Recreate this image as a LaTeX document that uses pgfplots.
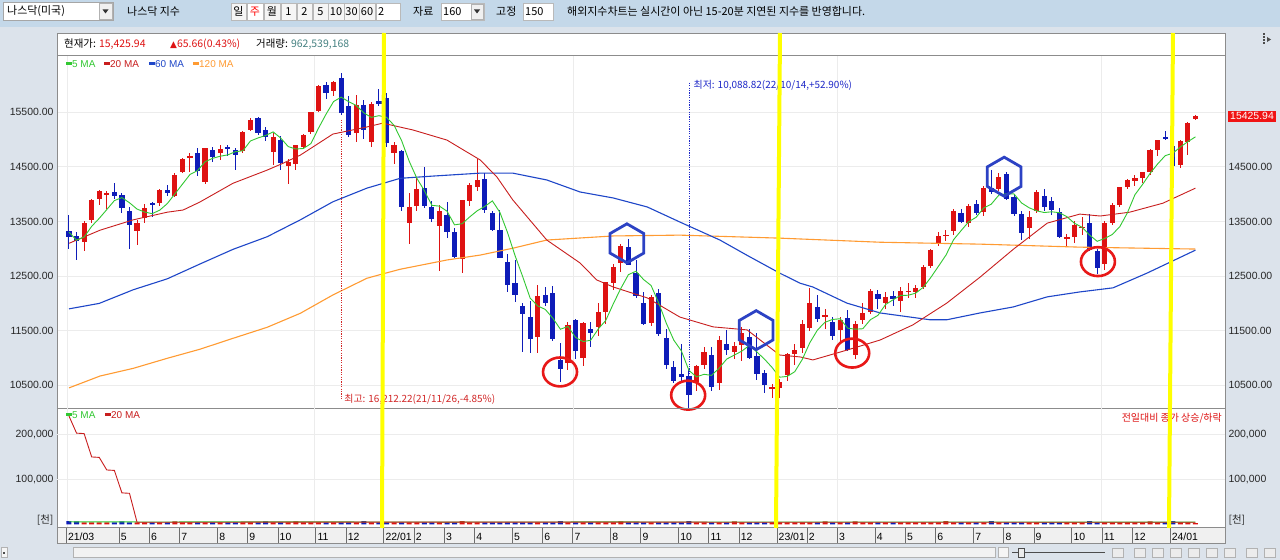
\documentclass[border=0pt]{standalone}
\usepackage{fontspec}
\usepackage{pgfplots}
\usepackage{pgfplotstable}
\pgfplotsset{compat=1.18}
\setmainfont{Liberation Sans}
\newfontfamily\kr{Noto Sans CJK KR}
\newfontfamily\djv{DejaVu Sans}
\newcommand\tkf{\fontsize{10.5}{12}\selectfont}
\newcommand\lgf{\fontsize{10}{12}\selectfont}
\newcommand\kt{\kr\fontsize{11}{13}\selectfont}
\newcommand\ks{\kr\fontsize{10.5}{12}\selectfont}
\newcommand\ka{\kr\fontsize{10}{12}\selectfont}

\definecolor{bgside}{RGB}{220,227,235}
\definecolor{bgtool}{RGB}{196,216,233}
\definecolor{upc}{RGB}{222,18,18}
\definecolor{dnc}{RGB}{14,28,184}
\definecolor{maA}{RGB}{50,200,50}
\definecolor{maB}{RGB}{200,30,30}
\definecolor{maC}{RGB}{30,70,200}
\definecolor{maD}{RGB}{255,155,50}
\definecolor{gridc}{RGB}{236,236,236}
\definecolor{framec}{RGB}{140,140,140}
\definecolor{sepc}{RGB}{110,110,110}
\definecolor{stripc}{RGB}{240,240,240}
\definecolor{annred}{RGB}{232,24,24}
\definecolor{annblue}{RGB}{44,66,196}
\definecolor{hiRed}{RGB}{210,40,40}
\definecolor{loBlue}{RGB}{30,40,200}
\definecolor{tagred}{RGB}{240,20,20}
\definecolor{tealc}{RGB}{70,130,130}
\definecolor{yel}{RGB}{255,255,0}

\pgfdeclareplotmark{hexagon}{%
  \pgfpathmoveto{\pgfpointpolar{90}{\pgfplotmarksize}}%
  \pgfpathlineto{\pgfpointpolar{150}{\pgfplotmarksize}}%
  \pgfpathlineto{\pgfpointpolar{210}{\pgfplotmarksize}}%
  \pgfpathlineto{\pgfpointpolar{270}{\pgfplotmarksize}}%
  \pgfpathlineto{\pgfpointpolar{330}{\pgfplotmarksize}}%
  \pgfpathlineto{\pgfpointpolar{30}{\pgfplotmarksize}}%
  \pgfpathclose
  \pgfusepathqstroke
}

\pgfplotsset{
  every axis/.append style={scaled ticks=false},
  pricegeom/.style={at={(57bp,152bp)}, anchor=south west, scale only axis,
    width=1168bp, height=353bp, xmin=-1.587, xmax=152.91, ymin=10085, ymax=16548},
  volgeom/.style={at={(57bp,33bp)}, anchor=south west, scale only axis,
    width=1168bp, height=119bp, xmin=-1.587, xmax=152.91, ymin=-6000, ymax=259000},
}

% weekly candles, close above open
\pgfplotstableread{
i o h l c v
2 13120 13510 12960 13480 4500
3 13530 13920 13480 13900 4500
4 13920 14070 13800 14052 4500
5 13990 14050 13730 14017 4500
9 13330 13530 13070 13471 4500
10 13557 13820 13480 13749 4500
12 13830 14100 13780 14069 4500
14 13960 14390 13940 14360 6500
15 14400 14660 14380 14639 4500
16 14660 14750 14410 14702 4500
18 14220 14850 14180 14837 4500
20 14760 14900 14620 14836 4500
23 14790 15150 14750 15130 4500
24 15180 15403 15150 15364 4500
27 14780 15120 14530 15048 4500
29 14520 14640 14181 14580 4500
30 14560 14900 14450 14897 6500
31 14870 15100 14850 15090 4500
32 15130 15510 15100 15498 4500
33 15530 15990 15510 15972 4500
35 15880 16080 15800 16057 4500
38 15115 15817 14962 15631 4500
40 14962 15690 14860 15653 4500
43 14750 14960 14560 14894 4500
45 13470 14015 13094 13771 4500
46 13780 14290 13700 14098 4500
49 13420 13800 12587 13695 4500
52 12820 13900 12555 13894 7000
53 13880 14200 13790 14169 4500
54 14140 14646 14050 14262 4500
62 11380 12330 11100 12131 4500
66 10900 11660 10780 11608 4500
68 11000 11660 10860 11635 4500
70 11560 12000 11400 11834 4500
71 11850 12400 11620 12391 4500
72 12370 12730 12240 12658 4500
73 12740 13080 12580 13047 6500
77 11640 12150 11580 12112 4500
83 10565 10880 10400 10860 4500
84 10870 11210 10800 11102 4500
86 10540 11400 10410 11323 4500
88 11110 11290 10980 11226 6500
89 11240 11570 10950 11462 4500
93 10440 10530 10262 10466 4500
94 10450 10620 10265 10569 4500
95 10690 11100 10580 11079 4500
96 11070 11250 10870 11140 4500
97 11180 11700 11100 11622 4500
98 11550 12277 11500 12007 4500
100 11750 11900 11540 11787 6500
102 11510 11760 11300 11689 4500
104 11060 11680 10980 11631 6500
105 11700 12000 11620 11824 4500
106 11840 12270 11800 12222 4500
108 12000 12200 11900 12123 4500
110 12050 12300 11850 12227 4500
111 12210 12380 12100 12235 4500
112 12200 12340 12100 12285 4500
113 12300 12700 12270 12658 4500
114 12690 13000 12650 12976 4500
115 13100 13300 13050 13241 4500
116 13230 13340 13150 13259 7000
117 13330 13720 13250 13690 4500
119 13480 13820 13400 13788 4500
121 13680 14150 13600 14114 4500
123 14090 14380 14050 14317 4500
127 13380 13700 13180 13591 4500
128 13700 14070 13650 14032 4500
132 13180 13270 13060 13219 4500
133 13220 13500 13100 13431 4500
134 13380 13580 13250 13407 4500
137 12720 13500 12620 13478 4500
138 13480 13830 13440 13798 4500
139 13800 14140 13770 14125 4500
140 14130 14280 14100 14251 4500
141 14250 14360 14150 14305 4500
142 14300 14410 14200 14404 4500
143 14400 14830 14350 14814 6500
144 14800 15000 14700 14993 4500
147 14530 15000 14480 14973 4500
148 14950 15320 14720 15311 4500
149 15380 15450 15350 15426 2500
}\upT

% weekly candles, close below open
\pgfplotstableread{
i o h l c v
0 13320 13620 13000 13215 7000
1 13240 13300 12787 13139 6500
6 14040 14211 13920 13963 4500
7 13990 14020 13650 13752 6500
8 13700 13760 13002 13430 4500
11 13830 13850 13580 13814 4500
13 14080 14174 13970 14030 4500
17 14760 14845 14340 14427 4500
19 14800 14864 14580 14673 4500
21 14860 14900 14700 14823 4500
22 14800 14850 14440 14715 4500
25 15400 15420 15090 15115 4500
26 15180 15230 14980 15044 6500
28 15000 15060 14440 14567 4500
34 16000 16060 15740 15861 4500
36 16123 16212 15450 15492 4500
37 15620 15800 15050 15085 4500
39 15634 15720 15006 15170 7000
41 15713 15920 15620 15645 4500
42 15756 15860 14860 14936 4500
44 14790 14810 13690 13769 4500
47 14110 14490 13750 13791 4500
48 13760 13870 13490 13548 4500
50 13620 13860 13190 13313 4500
51 13300 13380 12830 12844 4500
55 14270 14380 13650 13711 4500
56 13660 13700 13330 13351 4500
57 13350 13710 12830 12839 4500
58 12760 12900 12200 12335 4500
59 12370 12800 12030 12145 4500
60 11950 12000 11110 11805 4500
61 11750 12050 11090 11355 4500
63 12150 12300 11960 12013 4500
64 12190 12320 11320 11340 4500
65 10960 11280 10565 10798 7000
67 11690 11720 10980 11128 4500
69 11540 11660 11200 11452 4500
74 13030 13181 12700 12705 4500
75 12550 12800 12106 12142 4500
76 12000 12200 11604 11631 4500
78 12185 12270 11410 11448 4500
79 11370 11530 10800 10868 4500
80 10840 10950 10540 10576 4500
81 10700 11250 10570 10652 4500
82 10670 10800 10089 10321 7000
85 11050 11200 10390 10475 4500
87 11250 11510 11050 11146 4500
90 11390 11540 10980 11005 4500
91 11030 11450 10600 10705 4500
92 10730 10780 10360 10498 4500
99 11940 12150 11665 11718 4500
101 11660 11750 11330 11395 4500
103 11740 11880 11120 11139 4500
107 12170 12250 11900 12088 4500
109 12140 12230 11960 12072 4500
118 13650 13720 13470 13493 4500
120 13820 13900 13620 13661 4500
122 14110 14446 14000 14033 7000
124 14370 14400 13900 13909 4500
125 13955 14000 13600 13645 4500
126 13640 13700 13160 13291 4500
129 13970 14100 13690 13762 4500
130 13880 13950 13620 13708 4500
131 13680 13740 13200 13212 4500
135 13470 13640 12960 12984 7000
136 12960 13000 12544 12643 4500
145 15050 15160 14990 15011 4500
146 14880 14900 14500 14524 7000
}\dnT

\begin{document}
\begin{tikzpicture}
\useasboundingbox (0,0) rectangle (1280bp,560bp);
\begin{scope}[x=1bp,y=1bp]
\fill[bgside] (0,0) rectangle (1280,560);
\fill[bgtool] (0,533) rectangle (1280,560);
% toolbar
\draw[fill=white, draw=gray!70] (3.5,539.5) rectangle (113.5,557.5);
\draw[fill=gray!12, draw=gray!60] (99,540.5) rectangle (112.5,556.5);
\fill[black!80] (102.5,550.5) -- (108.5,550.5) -- (105.5,546.5) -- cycle;
\node[anchor=west, font=\kt, inner sep=0] at (7,548.5) {나스닥(미국)};
\node[anchor=west, font=\kt, inner sep=0] at (127,548.5) {나스닥 지수};
\foreach \a/\b/\t in {231/246/일,264/280/월,281/296/1,297/312/2,313/328/5,328/344/10,344/359/30,359/375/60}{
  \draw[fill=gray!8, draw=gray!55] (\a,540) rectangle (\b,557);
  \node[font=\kt, inner sep=0] at ({(\a+\b)/2},548.5) {\t};
}
\draw[fill=white, draw=gray!55] (247,540) rectangle (263,557);
\node[font=\kt, text=red, inner sep=0] at (255,548.5) {주};
\draw[fill=white, draw=gray!55] (376,540) rectangle (400,557);
\node[anchor=west, font=\kt, inner sep=0] at (378,548.5) {2};
\node[anchor=west, font=\kt, inner sep=0] at (413,548.5) {자료};
\draw[fill=white, draw=gray!55] (441,540) rectangle (484,557);
\draw[fill=gray!12, draw=gray!60] (471,541) rectangle (483,556);
\fill[black!80] (474,550.5) -- (480,550.5) -- (477,546.5) -- cycle;
\node[anchor=west, font=\kt, inner sep=0] at (443,548.5) {160};
\node[anchor=west, font=\kt, inner sep=0] at (496,548.5) {고정};
\draw[fill=white, draw=gray!55] (523,540) rectangle (553,557);
\node[anchor=west, font=\kt, inner sep=0] at (525,548.5) {150};
\node[anchor=west, font=\kt, inner sep=0] at (567,548.5) {해외지수차트는 실시간이 아닌 15-20분 지연된 지수를 반영합니다.};
% panel
\draw[fill=white, draw=framec] (57,33) rectangle (1225,527);
\node[anchor=west, inner sep=0, font=\ks] at (64,516) {현재가: \textcolor{upc}{15,425.94}};
\node[anchor=west, inner sep=0, font=\ks, text=upc] at (170,516) {{\djv\fontsize{9}{10}\selectfont ▲}65.66(0.43\%)};
\node[anchor=west, inner sep=0, font=\ks] at (256,516) {거래량: \textcolor{tealc}{962,539,168}};
% small icon top right
\foreach \yy in {516,519,522,525}{\fill[black!70] (1263,\yy) rectangle (1265,\yy+1.5);}
\fill[black!70] (1267,518) -- (1271,520.5) -- (1267,523) -- cycle;
\end{scope}

% ---------------- price pane ----------------
\begin{axis}[pricegeom,
  axis line style={draw=framec},
  xtick={-0.26,32.5,66.7,101.6,136.6}, xticklabels={},
  ytick={10500,11500,12500,13500,14500,15500},
  yticklabels={10500.00,11500.00,12500.00,13500.00,14500.00,15500.00},
  xmajorgrids, ymajorgrids, grid style={draw=gridc, line width=1bp},
  major tick length=0pt, tick pos=left,
  yticklabel style={font=\tkf, text=black!85},
]
% wicks
\addplot[draw=none, mark=none, error bars/.cd, y dir=both, y explicit, error mark=none,
  error bar style={draw=upc, line width=1bp}]
  table[x=i, y expr={(\thisrow{h}+\thisrow{l})/2}, y error expr={(\thisrow{h}-\thisrow{l})/2}] {\upT};
\addplot[draw=none, mark=none, error bars/.cd, y dir=both, y explicit, error mark=none,
  error bar style={draw=dnc, line width=1bp}]
  table[x=i, y expr={(\thisrow{h}+\thisrow{l})/2}, y error expr={(\thisrow{h}-\thisrow{l})/2}] {\dnT};
% bodies
\addplot[draw=none, mark=none, error bars/.cd, y dir=both, y explicit, error mark=none,
  error bar style={draw=upc, line width=5.2bp}]
  table[x=i, y expr={(\thisrow{o}+\thisrow{c})/2}, y error expr={(\thisrow{c}-\thisrow{o})/2}] {\upT};
\addplot[draw=none, mark=none, error bars/.cd, y dir=both, y explicit, error mark=none,
  error bar style={draw=dnc, line width=5.2bp}]
  table[x=i, y expr={(\thisrow{o}+\thisrow{c})/2}, y error expr={(\thisrow{o}-\thisrow{c})/2}] {\dnT};
% 120 MA
\addplot[maD, line width=1.1bp, mark=none] coordinates {
(0,10453) (4.1,10670) (8.5,10811) (13,10995) (17.3,11160) (21.7,11361) (26.2,11562) (30.6,11819)
(34.9,12154) (39.4,12460) (41.1,12525) (43.8,12625) (50,12795) (54.4,12885) (58.7,13010) (63.2,13160)
(72,13235) (80.8,13250) (94,13195) (107.3,13120) (120.5,13085) (133.7,13030) (149,12995)};
% 60 MA
\addplot[maC, line width=1.1bp, mark=none] coordinates {
(0,11900) (4,12000) (8.5,12250) (13,12450) (17.3,12720) (21.7,12990) (26.2,13220) (30.6,13530)
(34.9,13860) (39.4,14110) (43.8,14290) (48,14330) (54.4,14385) (58.7,14385) (63.2,14260) (67.6,14040)
(72,13930) (76.5,13765) (80.8,13490) (86.1,13160) (89.7,12880) (94,12555) (96.7,12370) (98.4,12300)
(102.9,12005) (107.3,11825) (113.9,11700) (116.1,11700) (120.5,11825) (124.9,11935) (129.4,12120)
(133.7,12210) (138.1,12285) (142.6,12555) (149,12975)};
% 20 MA
\addplot[maB, line width=0.9bp, mark=none] coordinates {
(0,13100) (4.1,13340) (8.5,13530) (13,13670) (15.1,13710) (17.3,13855) (21.7,14200) (26.2,14440)
(28.3,14565) (30.6,14715) (34.9,15100) (39.4,15230) (41.5,15300) (45.5,15175) (50,14990) (54.4,14625)
(56.6,14315) (58.7,13895) (63.2,13160) (67.6,12740) (69.8,12430) (72,12300) (76.5,12100) (80.8,11750)
(85.2,11570) (89.7,11515) (94,11055) (96.7,11020) (98.4,10965) (102.9,11145) (107.3,11330) (111.6,11605)
(116.1,12005) (120.5,12480) (124.9,12990) (129.4,13470) (133.7,13635) (136.4,13600) (140.3,13670)
(144.7,13835) (149,14110)};
% 5 MA
\addplot[maA, line width=0.9bp, mark=none] coordinates {
(0,13304) (1,13157) (2,13215) (3,13411) (4,13557) (5,13718) (6,13882) (7,13937) (8,13843) (9,13727)
(10,13673) (11,13643) (12,13707) (13,13827) (14,14004) (15,14182) (16,14360) (17,14432) (18,14593) (19,14656)
(20,14695) (21,14719) (22,14777) (23,14795) (24,14974) (25,15029) (26,15074) (27,15140) (28,15028) (29,14871)
(30,14827) (31,14836) (32,14926) (33,15207) (34,15464) (35,15696) (36,15776) (37,15693) (38,15625) (39,15487)
(40,15406) (41,15437) (42,15407) (43,15260) (44,14979) (45,14603) (46,14294) (47,14065) (48,13795) (49,13781)
(50,13689) (51,13438) (52,13459) (53,13583) (54,13696) (55,13776) (56,13877) (57,13666) (58,13300) (59,12876)
(60,12495) (61,12096) (62,11954) (63,11890) (64,11729) (65,11527) (66,11578) (67,11377) (68,11302) (69,11324)
(70,11531) (71,11688) (72,11994) (73,12276) (74,12527) (75,12589) (76,12437) (77,12327) (78,12008) (79,11640)
(80,11327) (81,11131) (82,10773) (83,10655) (84,10702) (85,10682) (86,10816) (87,10981) (88,11054) (89,11126)
(90,11232) (91,11109) (92,10979) (93,10827) (94,10649) (95,10663) (96,10750) (97,10975) (98,11283) (99,11513)
(100,11655) (101,11706) (102,11719) (103,11546) (104,11528) (105,11536) (106,11701) (107,11781) (108,11978) (109,12066)
(110,12146) (111,12149) (112,12188) (113,12295) (114,12476) (115,12679) (116,12884) (117,13165) (118,13332) (119,13494)
(120,13578) (121,13749) (122,13818) (123,13983) (124,14007) (125,14004) (126,13839) (127,13751) (128,13694) (129,13664)
(130,13677) (131,13661) (132,13587) (133,13466) (134,13395) (135,13251) (136,13137) (137,13189) (138,13262) (139,13406)
(140,13659) (141,13991) (142,14177) (143,14380) (144,14553) (145,14705) (146,14749) (147,14863) (148,14962) (149,15049)};
% high / low markers
\addplot[hiRed, line width=0.8bp, dash pattern=on 1.2bp off 1.2bp, mark=none] coordinates {(36,15360) (36,10240)};
\addplot[loBlue, line width=0.8bp, dash pattern=on 1.2bp off 1.2bp, mark=none] coordinates {(82,16040) (82,10710)};
\node[anchor=west, inner sep=0, font=\ka, text=hiRed] at (axis cs:36.4,10250) {최고: 16,212.22(21/11/26,-4.85\%)};
\node[anchor=west, inner sep=0, font=\ka, text=loBlue] at (axis cs:82.6,16000) {최저: 10,088.82(22/10/14,+52.90\%)};
% hand annotations
\addplot[only marks, mark=o, mark size=17bp, mark options={draw=annred, fill=none, line width=2.6bp, yscale=0.85}]
  coordinates {(64.95,10745) (81.9,10320) (103.6,11090) (136.1,12765)};
\addplot[only marks, mark=hexagon, mark size=19.5bp, mark options={draw=annblue, line width=2.8bp}]
  coordinates {(73.8,13100) (90.9,11510) (123.7,14320)};
\end{axis}

% right price labels
\begin{axis}[pricegeom, hide x axis, axis y line*=right, axis line style={draw=none},
  ytick={10500,11500,12500,13500,14500},
  yticklabels={10500.00,11500.00,12500.00,13500.00,14500.00},
  major tick length=0pt, yticklabel style={font=\tkf, text=black!85},
  extra y ticks={15425.94}, extra y tick labels={15425.94},
  extra y tick style={yticklabel style={fill=tagred, text=white, inner xsep=2bp, inner ysep=2bp, xshift=3bp}}]
\end{axis}

% ---------------- volume pane ----------------
\begin{axis}[volgeom, axis line style={draw=framec},
  xtick=\empty,
  extra x ticks={-0.26,32.5,66.7,101.6,136.6}, extra x tick labels={},
  extra x tick style={grid=major, major tick length=0pt},
  ytick={9600,100000,200000}, yticklabels={{\kr [천]},{100,000},{200,000}},
  ytick pos=left, major tick length=0pt,
  extra y ticks={100000,200000}, extra y tick labels={}, extra y tick style={grid=major},
  grid style={draw=gridc, line width=1bp},
  yticklabel style={font=\tkf, text=black!85}]
\addplot[ybar, bar width=5bp, bar shift=0pt, fill=upc, draw=none] table[x=i, y=v] {\upT};
\addplot[ybar, bar width=5bp, bar shift=0pt, fill=dnc, draw=none] table[x=i, y=v] {\dnT};
\addplot[maA, line width=0.9bp, mark=none] coordinates {(0,5600) (10,5200) (30,5400) (50,5000) (70,5300) (90,5100) (110,5200) (130,5000) (149,4800)};
\addplot[maB, line width=0.9bp, mark=none] coordinates {(0,241000) (1,203000) (2,202000) (3,150000) (4,149000) (5,121000) (6,120000) (7,70000) (8,69000) (9,4600) (40,4800) (80,4700) (120,4600) (149,4500)};
\end{axis}

\begin{axis}[volgeom, hide x axis, axis y line*=right, axis line style={draw=none},
  ytick={9600,100000,200000}, yticklabels={{\kr [천]},{100,000},{200,000}},
  major tick length=0pt, yticklabel style={font=\tkf, text=black!85}]
\end{axis}

% ---------------- date strip ----------------
\begin{axis}[at={(57bp,17bp)}, anchor=south west, scale only axis, width=1168bp, height=16bp,
  xmin=-1.587, xmax=152.91, ymin=0, ymax=1, ytick=\empty,
  xtick={-0.35,6.65,10.65,14.65,19.65,23.65,27.65,32.65,36.65,41.65,45.65,49.65,53.65,58.65,62.65,66.65,71.65,75.65,80.65,84.65,88.65,93.65,97.65,101.65,106.65,110.65,114.65,119.65,123.65,127.65,132.65,136.65,140.65,145.65},
  xticklabels={21/03,5,6,7,8,9,10,11,12,22/01,2,3,4,5,6,7,8,9,10,11,12,23/01,2,3,4,5,6,7,8,9,10,11,12,24/01},
  xmajorgrids, grid style={draw=sepc, line width=1bp}, major tick length=0pt,
  xticklabel style={anchor=south west, font=\tkf, inner xsep=1.5bp, inner ysep=2.5bp},
  axis line style={draw=framec}, axis background/.style={fill=stripc}]
\addplot[draw=none, mark=none] coordinates {(0,0.5)};
\end{axis}

\begin{scope}[x=1bp,y=1bp]
% legends
\node[anchor=west, inner sep=0, font=\lgf, text=maA] at (66,496) {\rule[0.28em]{6bp}{2.6bp}5 MA};
\node[anchor=west, inner sep=0, font=\lgf, text=maB] at (104,496) {\rule[0.28em]{6bp}{2.6bp}20 MA};
\node[anchor=west, inner sep=0, font=\lgf, text=maC] at (149,496) {\rule[0.28em]{6bp}{2.6bp}60 MA};
\node[anchor=west, inner sep=0, font=\lgf, text=maD] at (193,496) {\rule[0.28em]{6bp}{2.6bp}120 MA};
\node[anchor=west, inner sep=0, font=\lgf, text=maA] at (66,145) {\rule[0.28em]{6bp}{2.6bp}5 MA};
\node[anchor=west, inner sep=0, font=\lgf, text=maB] at (105,145) {\rule[0.28em]{6bp}{2.6bp}20 MA};
\node[anchor=east, inner sep=0, font=\ka, text=upc] at (1222,142) {전일대비 종가 상승/하락};
% yellow hand lines
\draw[yel, line width=4bp] (384,527) -- (382,32);
\draw[yel, line width=4bp] (780,527) -- (776,32);
\draw[yel, line width=4bp] (1173,527) -- (1169,32);
% bottom scroll bar
\draw[fill=gray!8, draw=gray!60] (1,2.5) rectangle (7,12.5);
\fill[black!70] (3,6.5) rectangle (5,8.5);
\draw[fill=gray!10, draw=gray!60] (73,2.5) rectangle (995,12.5);
\draw[fill=gray!8, draw=gray!60] (998,2.5) rectangle (1008,12.5);
\draw[black!70, line width=1bp] (1012,7.5) -- (1105,7.5);
\draw[fill=gray!15, draw=black!70] (1018,3) rectangle (1024,12);
\foreach \q in {1112,1134,1152,1170,1188,1206,1224,1246,1264}{
  \draw[fill=gray!15, draw=gray!60] (\q,3) rectangle (\q+11,12);
}
\end{scope}
\end{tikzpicture}
\end{document}
